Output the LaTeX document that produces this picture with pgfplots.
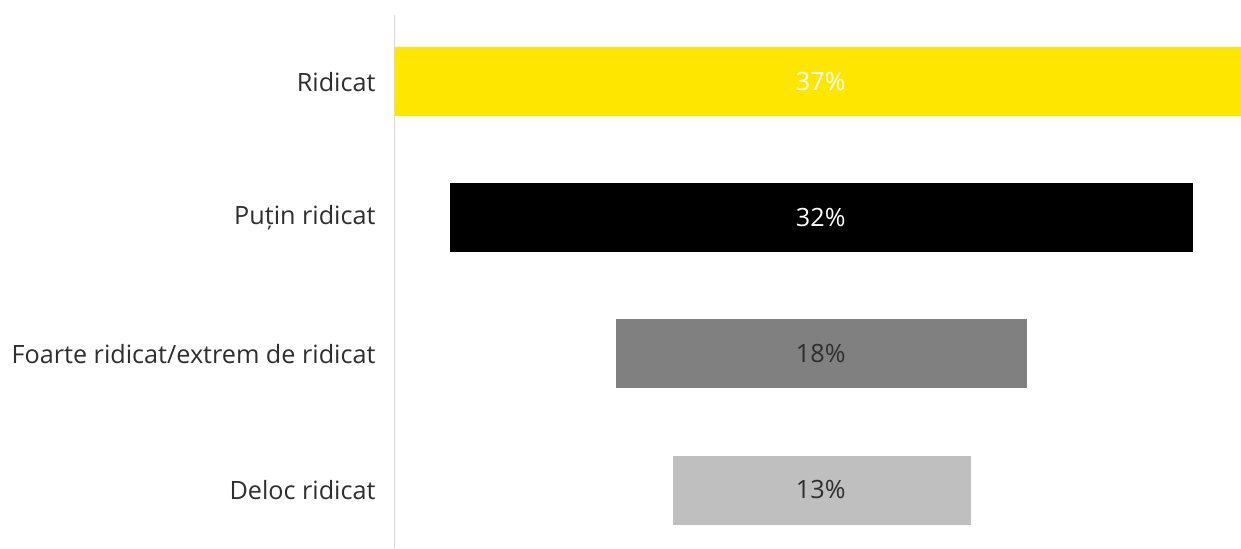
\documentclass[border=0pt]{standalone}
\usepackage{pgfplots}
\pgfplotsset{compat=1.18}
\usepackage{fontspec}
\setmainfont{Open Sans}
\definecolor{eyyellow}{HTML}{FFE600}
\definecolor{midgray}{HTML}{808080}
\definecolor{lightgray}{HTML}{BFBFBF}
\definecolor{txt}{HTML}{2E2E2E}
\definecolor{axgray}{HTML}{D9D9D9}
\begin{document}
\begin{tikzpicture}
\begin{axis}[
  width=423pt, height=266.5pt, scale only axis,
  xmin=-18.5, xmax=18.5,
  ymin=0.5735, ymax=4.49,
  xbar, bar width=0.5, bar shift=0pt,
  axis x line=none,
  axis y line=left,
  axis line style={-, draw=axgray, line width=0.6pt},
  ytick={1,2,3,4},
  yticklabels={Deloc ridicat,Foarte ridicat/extrem de ridicat,Puțin ridicat,Ridicat},
  major tick length=0pt,
  ytick style={draw=none},
  yticklabel style={font=\fontsize{12.6}{15}\selectfont, text=txt, inner sep=0pt, anchor=east, xshift=-9.5pt},
  clip=false,
]
% each funnel bar drawn as two halves from 0
\addplot[fill=eyyellow, draw=eyyellow, line width=0.3pt] coordinates {(18.5,4)};
\addplot[fill=eyyellow, draw=eyyellow, line width=0.3pt] coordinates {(-18.5,4)};
\addplot[fill=black, draw=black, line width=0.3pt] coordinates {(16.4,3)};
\addplot[fill=black, draw=black, line width=0.3pt] coordinates {(-16.09,3)};
\addplot[fill=midgray, draw=midgray, line width=0.3pt] coordinates {(9.14,2)};
\addplot[fill=midgray, draw=midgray, line width=0.3pt] coordinates {(-8.83,2)};
\addplot[fill=lightgray, draw=lightgray, line width=0.3pt] coordinates {(6.65,1)};
\addplot[fill=lightgray, draw=lightgray, line width=0.3pt] coordinates {(-6.34,1)};
\node[font=\fontsize{12.6}{15}\selectfont, text=white] at (axis cs:0.13,4) {37\%};
\node[font=\fontsize{12.6}{15}\selectfont, text=white] at (axis cs:0.13,3) {32\%};
\node[font=\fontsize{12.6}{15}\selectfont, text=txt] at (axis cs:0.13,2) {18\%};
\node[font=\fontsize{12.6}{15}\selectfont, text=txt] at (axis cs:0.13,1) {13\%};
\path ([xshift=-197.5pt]rel axis cs:0,0) rectangle ([yshift=7.5pt]rel axis cs:1,1);
\end{axis}
\end{tikzpicture}
\end{document}
